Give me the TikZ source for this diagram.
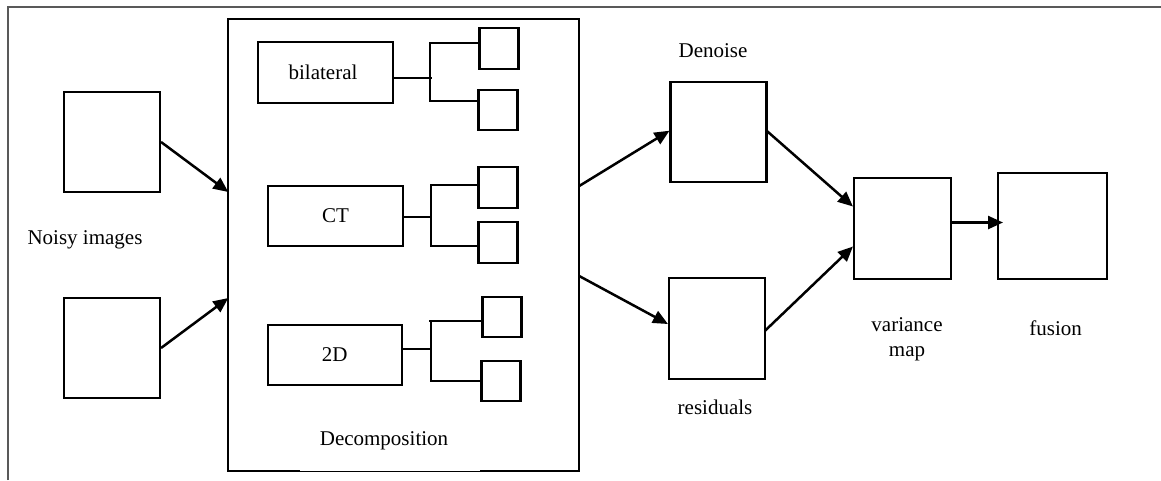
\documentclass[tikz,border=0pt]{standalone}
\usepackage{fontspec}
\setmainfont{Liberation Serif}
\usetikzlibrary{arrows.meta}
\begin{document}
\begin{tikzpicture}[x=1pt,y=-1pt,
  every node/.style={font=\fontsize{21}{25}\selectfont, inner sep=0pt},
  box/.style={draw=black, line width=2.1pt, fill=none},
  link/.style={draw=black, line width=2.1pt},
  arr/.style={draw=black, line width=2.5pt, -{Triangle[length=15pt,width=13pt]}},
  frameline/.style={draw=black!65, line width=2pt}]
\useasboundingbox (0,0) rectangle (1161,480);
\draw[frameline] (8,480) -- (8,7) -- (1161,7);

% inputs
\node[box, minimum width=96pt, minimum height=100pt] (n1) at (112,142) {};
\node[box, minimum width=96pt, minimum height=100pt] (n2) at (112,348) {};
\node (noisy) at (85,240) {Noisy images};

% decomposition
\node[minimum width=350.5pt, minimum height=452pt] (dec) at (403.75,245) {};
\draw[link] ([xshift=71.5pt]dec.south west) -- (dec.south west) -- (dec.north west)
  -- (dec.north east) -- (dec.south east) -- ([xshift=-99pt]dec.south east);
\draw[draw=black, line width=0.9pt] ([xshift=71.5pt]dec.south west) -- ([xshift=-99pt]dec.south east);
\node (declbl) at (384,441) {Decomposition};

\node[box, minimum width=135pt, minimum height=60.7pt] (bil) at (325.5,72.3) {};
\node (biltxt) at (323,72) {bilateral};
\node[box, minimum width=135pt, minimum height=60pt] (ct) at (335.5,216) {CT};
\node[box, minimum width=134.5pt, minimum height=60.3pt] (dd) at (334.8,354.8) {2D};

\node[box, minimum width=39pt, minimum height=40.5pt] (b1a) at (499,48.3) {};
\node[box, minimum width=39pt, minimum height=40.5pt] (b1b) at (498,110) {};
\node[box, minimum width=39pt, minimum height=40.5pt] (c1a) at (498,187.5) {};
\node[box, minimum width=39pt, minimum height=40.5pt] (c1b) at (498,242.3) {};
\node[box, minimum width=39pt, minimum height=40.5pt] (d1a) at (502,317) {};
\node[box, minimum width=39pt, minimum height=40.5pt] (d1b) at (501,381) {};

% bilateral branches
\coordinate (bt) at (430,43.3);
\coordinate (bb) at (430,101.3);
\coordinate (bs) at (432,78.3);
\draw[link] ([yshift=-6pt]bil.east) -- (bs);
\draw[link] (b1a.west |- bt) -- (bt) -- (bb) -- (b1b.west |- bb);
% CT branches
\coordinate (ctt) at (431,185);
\coordinate (ctb) at (431,246.3);
\coordinate (cts) at (431,217);
\draw[link] ([yshift=-1pt]ct.east) -- (cts);
\draw[link] (c1a.west |- ctt) -- (ctt) -- (ctb) -- (c1b.west |- ctb);
% 2D branches
\coordinate (dt) at (431,321.3);
\coordinate (dtl) at (428.6,321.3);
\coordinate (db) at (431,381);
\coordinate (ds) at (431,349);
\draw[link] ([yshift=5.8pt]dd.east) -- (ds);
\draw[link] (d1a.west |- dt) -- (dtl);
\draw[link] (dt) -- (db) -- (d1b.west |- db);

% right part
\node[box, minimum width=96pt, minimum height=100.6pt] (den) at (718.5,132) {};
\node (dentxt) at (713,51) {Denoise};
\node[box, minimum width=96pt, minimum height=100.7pt] (res) at (717,328.7) {};
\node (restxt) at (715,407) {residuals};
\node[box, minimum width=96.6pt, minimum height=100.4pt] (var) at (902.3,228.5) {};
\node[align=center] (vartxt) at (907,339) {variance\\map};
\node[box, minimum width=109.3pt, minimum height=105.7pt] (fus) at (1052.7,225.9) {};
\node (fustxt) at (1055.6,328) {fusion};

% arrows
\draw[arr] (n1.east) -- ([yshift=53pt]dec.west);
\draw[arr] (n2.east) -- ([yshift=-53pt]dec.west);
\draw[arr] ([yshift=59pt]dec.east) -- ([yshift=1.3pt]den.west);
\draw[arr] ([yshift=-31pt]dec.east) -- ([yshift=4.7pt]res.west);
\draw[arr] ([yshift=1.3pt,xshift=-1pt]den.east) -- ([yshift=22pt]var.west);
\draw[arr] ([yshift=-2pt,xshift=-1pt]res.east) -- ([yshift=-18pt]var.west);
\draw[arr] ([yshift=6pt]var.east) -- ([xshift=6pt,yshift=6pt]var.east -| fus.west);
\end{tikzpicture}
\end{document}
